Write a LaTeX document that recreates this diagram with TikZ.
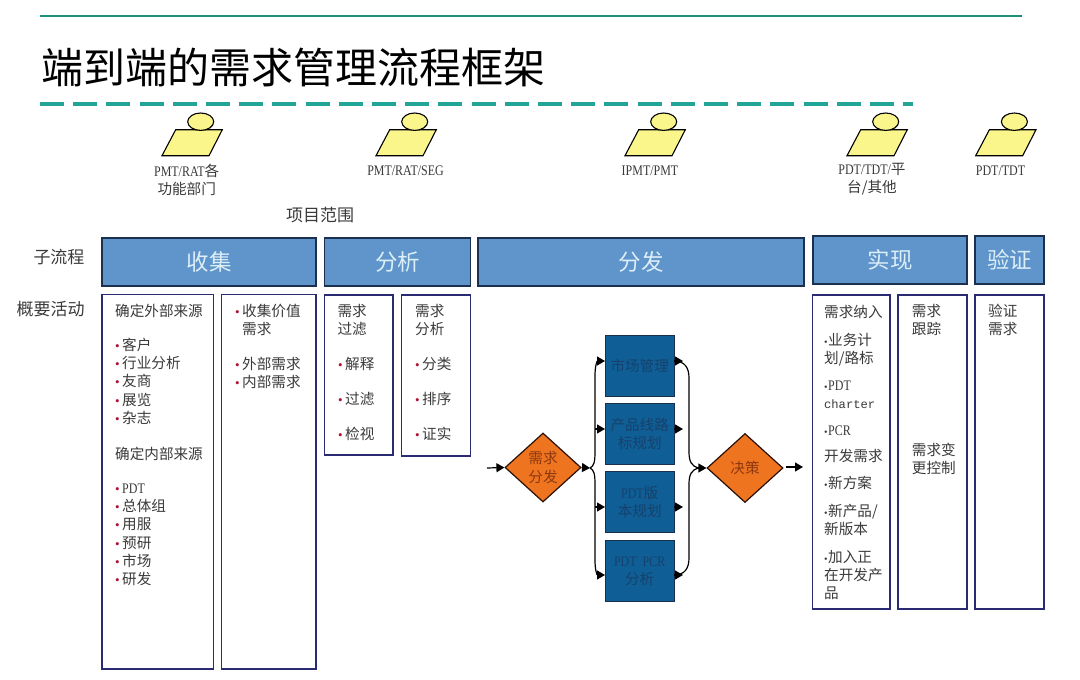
\documentclass[tikz,border=0pt]{standalone}
\usepackage{fontspec}
\setmainfont{Noto Sans CJK SC}
\newfontfamily\lat[FakeStretch=0.82]{Liberation Serif}
\newfontfamily\latm[Scale=0.83]{Liberation Mono}
\newfontfamily\bulfont{Liberation Serif}
\usetikzlibrary{arrows.meta,shapes.geometric}
\definecolor{barblue}{HTML}{5F95CB}
\definecolor{barline}{HTML}{1B2F4E}
\definecolor{bartext}{HTML}{DCEEF8}
\definecolor{navy}{HTML}{2B2B74}
\definecolor{flowblue}{HTML}{0F5F96}
\definecolor{flowtext}{HTML}{16416C}
\definecolor{orangefill}{HTML}{EE7420}
\definecolor{orangetext}{HTML}{8E3810}
\definecolor{bodytext}{HTML}{3A3A3A}
\definecolor{dotred}{HTML}{B01030}
\definecolor{actorfill}{HTML}{FBF68C}
\definecolor{toprule}{HTML}{1C8F78}
\definecolor{dashline}{HTML}{22A596}
\newcommand\bu[1][7pt]{\makebox[#1][l]{\textcolor{dotred}{\bulfont\fontsize{13}{13}\selectfont •}}}
\newcommand\du{\makebox[4pt][l]{\textcolor{bodytext}{\bulfont\fontsize{10}{10}\selectfont •}}}
\newcommand\actor[2]{%
  \begin{scope}[xshift=#2pt]
    \draw[actorshape] (162,155.7) -- (175.7,129.7) -- (222.3,129.7) -- (209,155.7) -- cycle;
    \node[actorhead] (#1) at (200.7,121.7) {};
  \end{scope}}
\tikzset{
  x=1pt,y=-1pt,
  bar/.style={draw=barline,line width=1.2pt,fill=barblue,text=bartext,inner sep=0pt,font=\fontsize{22.5}{26}\selectfont},
  actbox/.style={draw=navy,line width=1.4pt,fill=white,inner sep=0pt},
  flowbox/.style={draw=barline,line width=1pt,fill=flowblue,text=flowtext,inner sep=0pt,minimum width=68.7pt,minimum height=61pt,align=center,font=\fontsize{14.6}{18.1}\selectfont},
  decide/.style={shape=diamond,draw=black!70!orangetext,line width=1.2pt,fill=orangefill,text=orangetext,inner sep=0pt,minimum width=76pt,minimum height=69pt,shape aspect=1.1,align=center,font=\fontsize{14.6}{18.1}\selectfont},
  actorshape/.style={draw=black,line width=1.1pt,fill=actorfill},
  actorhead/.style={shape=ellipse,draw=black,line width=1.1pt,fill=actorfill,minimum width=26pt,minimum height=17.4pt,inner sep=0pt},
  txt/.style={anchor=north west,inner sep=0pt,align=left,text=bodytext,font=\fontsize{14.6}{18.1}\selectfont},
  role/.style={inner sep=0pt,align=center,text=bodytext,font=\fontsize{14.6}{18.1}\selectfont},
  side/.style={inner sep=0pt,text=bodytext,font=\fontsize{17}{20}\selectfont},
  flow/.style={draw=black,line width=1.2pt,-{Triangle[length=8pt,width=9pt]}},
  plain/.style={draw=black,line width=1.2pt},
}
\begin{document}
\begin{tikzpicture}
\useasboundingbox (0,0) rectangle (1080,680);
\fill[white] (0,0) rectangle (1080,680);
% title and rules
\coordinate (tl1) at (40,15.5); \coordinate (tl2) at (1022,15.5);
\draw[color=toprule,line width=2pt] (tl1) -- (tl2);
\node[anchor=west,inner sep=0pt,text=black,font=\fontsize{42}{46}\selectfont] (title) at (41,67) {端到端的需求管理流程框架};
\coordinate (dl1) at (40,104); \coordinate (dl2) at (913,104);
\draw[color=dashline,line width=3.2pt,dash pattern=on 24pt off 9.2pt] (dl1) -- (dl2);
% actors
\actor{a1}{0}
\actor{a2}{214}
\actor{a3}{463}
\actor{a4}{685}
\actor{a5}{813.7}
\node[role] (r1) at (186.7,179.5) {{\lat PMT/RAT}各\\功能部门};
\node[role] (r2) at (405.5,170.7) {\lat PMT/RAT/SEG};
\node[role] (r3) at (650,170.7) {\lat IPMT/PMT};
\node[role] (r4) at (872,179.5) {{\lat PDT/TDT/}平\\台/其他};
\node[role] (r5) at (1000.5,170.7) {\lat PDT/TDT};
\node[side] (scope) at (320,214.7) {项目范围};
\node[side] (s1) at (59,257) {子流程};
\node[side] (s2) at (50.5,309) {概要活动};
% bars
\node[bar,minimum width=214pt,minimum height=48pt] (b1) at (209,262) {收集};
\node[bar,minimum width=146pt,minimum height=48pt] (b2) at (397.5,262) {分析};
\node[bar,minimum width=326pt,minimum height=48pt] (b3) at (641,262) {分发};
\node[bar,minimum width=154pt,minimum height=48pt] (b4) at (890,260) {实现};
\node[bar,minimum width=69pt,minimum height=48pt] (b5) at (1009.5,260) {验证};
% activity boxes
\node[actbox,minimum width=111.5pt,minimum height=374.5pt] (A) at (157.75,481.75) {};
\node[actbox,minimum width=94.5pt,minimum height=374.5pt] (B) at (268.75,481.75) {};
\node[actbox,minimum width=68.5pt,minimum height=160pt] (C) at (358.75,375) {};
\node[actbox,minimum width=69pt,minimum height=161pt] (D) at (436,375.5) {};
\node[actbox,minimum width=77.7pt,minimum height=314pt] (E) at (851.15,452) {};
\node[actbox,minimum width=69pt,minimum height=314pt] (F) at (932.5,452) {};
\node[actbox,minimum width=69pt,minimum height=314pt] (G) at (1009.5,452) {};
% text in A
\node[txt] (A1) at (115,303.6) {\strut 确定外部来源};
\node[txt] (A2) at (115,337.9) {\strut\bu 客户\\\strut\bu 行业分析\\\strut\bu 友商\\\strut\bu 展览\\\strut\bu 杂志};
\node[txt] (A3) at (115,446.2) {\strut 确定内部来源};
\node[txt] (A4) at (115,480.9) {\strut\bu {\lat PDT}\\\strut\bu 总体组\\\strut\bu 用服\\\strut\bu 预研\\\strut\bu 市场\\\strut\bu 研发};
% text in B
\node[txt] (B1) at (235,303.6) {\strut\bu 收集价值\\\strut\hspace*{7pt}需求};
\node[txt] (B2) at (235,356.9) {\strut\bu 外部需求\\\strut\bu 内部需求};
% text in C, D
\node[txt] (C1) at (337.3,303.9) {\strut 需求\\\strut 过滤};
\node[txt] (C2) at (338,356.9) {\strut\bu 解释};
\node[txt] (C3) at (338,391.9) {\strut\bu 过滤};
\node[txt] (C4) at (338,426.9) {\strut\bu 检视};
\node[txt] (D1) at (415,303.9) {\strut 需求\\\strut 分析};
\node[txt] (D2) at (415,356.9) {\strut\bu 分类};
\node[txt] (D3) at (415,391.9) {\strut\bu 排序};
\node[txt] (D4) at (415,426.9) {\strut\bu 证实};
% text in E
\node[txt] (E1) at (824,304.6) {\strut 需求纳入};
\node[txt] (E2) at (824,332.2) {\strut\du 业务计\\\strut 划/路标};
\node[txt] (E3) at (824,377.2) {\strut\du {\lat PDT}\\\strut{\latm charter}};
\node[txt] (E4) at (824,422.2) {\strut\du {\lat PCR}};
\node[txt] (E5) at (824,448.9) {\strut 开发需求};
\node[txt] (E6) at (824,475.9) {\strut\du 新方案};
\node[txt] (E7) at (824,503.6) {\strut\du 新产品/\\\strut 新版本};
\node[txt] (E8) at (824,549.6) {\strut\du 加入正\\\strut 在开发产\\\strut 品};
% text in F, G
\node[txt] (F1) at (911.7,303.9) {\strut 需求\\\strut 跟踪};
\node[txt] (F2) at (911.7,442.9) {\strut 需求变\\\strut 更控制};
\node[txt] (G1) at (988,303.9) {\strut 验证\\\strut 需求};
% flow
\node[decide] (d1) at (543,467.5) {需求\\分发};
\node[decide] (d2) at (745,468) {决策};
\node[flowbox] (m1) at (639.7,365.5) {市场管理};
\node[flowbox] (m2) at (639.7,433.7) {产品线路\\标规划};
\node[flowbox] (m3) at (639.7,502.3) {{\lat PDT}版\\本规划};
\node[flowbox] (m4) at (639.7,571.2) {{\lat PDT\hspace{3pt} PCR}\\分析};
\coordinate (in) at (487,468);
\coordinate (out0) at (786,467);
\coordinate (out) at (803,467);
\coordinate (jl) at (590,468);
\coordinate (jr) at (698,468);
\coordinate (m1i) at (605,361); \coordinate (m2i) at (605,429);
\coordinate (m3i) at (605,507); \coordinate (m4i) at (605,575);
\coordinate (m1o) at (674,361); \coordinate (m2o) at (674,429);
\coordinate (m3o) at (674,507); \coordinate (m4o) at (674,575);
\coordinate (m1t) at (683,361); \coordinate (m4t) at (683,575);
\coordinate (m2t) at (683,429); \coordinate (m3t) at (683,507);
\coordinate (m2f) at (595,429); \coordinate (m3f) at (595,507);
\draw[flow] (in) -- (d1.west);
\draw[flow] (d1.east) -- (jl);
\draw[flow] (out0) -- (out);
\draw[flow] (jl) .. controls (594,466) and (595,462) .. (595,452) -- (595,376) .. controls (595,366) and (597,361) .. (m1i);
\draw[flow] (jl) .. controls (594,470) and (595,474) .. (595,484) -- (595,560) .. controls (595,570) and (597,575) .. (m4i);
\draw[flow] (m2f) -- (m2i);
\draw[flow] (m3f) -- (m3i);
\draw[flow] (m2o) -- (m2t);
\draw[flow] (m3o) -- (m3t);
\draw[plain] (m1o) .. controls (685,361) and (689,368) .. (689,378) -- (689,452) .. controls (689,462) and (692,466) .. (jr);
\draw[plain] (m4o) .. controls (685,575) and (689,568) .. (689,558) -- (689,484) .. controls (689,474) and (692,470) .. (jr);
\draw[flow] (m1o) -- (m1t);
\draw[flow] (m4o) -- (m4t);
\draw[flow] (jr) -- (d2.west);
\end{tikzpicture}
\end{document}
